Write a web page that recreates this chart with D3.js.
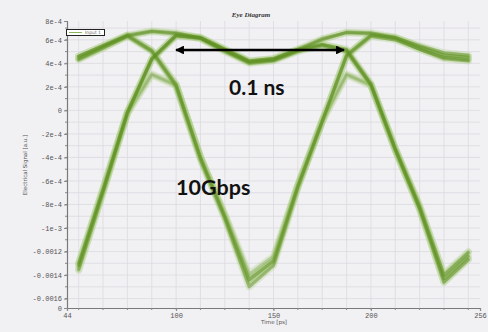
<!DOCTYPE html>
<html>
<head>
<meta charset="utf-8">
<script src="https://cdn.jsdelivr.net/npm/d3@7"></script>
<style>
  html, body { margin: 0; padding: 0; background: #f1f0f3; }
  svg { display: block; }
</style>
</head>
<body>
<svg id="chart" width="488" height="332"></svg>
<script>
// Sample instants of every trace [ps]
const times = [50, 62.5, 75, 87.5, 100, 112.5, 125, 137.5, 150, 162.5, 175, 187.5, 200, 212.5, 225, 237.5, 250];

// Electrical signal of each captured trace, in units of 1e-4 a.u.
const traceRiseHoldHold   = [-13.2, -6.8, -0.2, 4.4, 6.4, 6.15, 5.1, 4.1, 4.3, 5.1, 6.0, 6.65, 6.6, 6.2, 5.4, 4.7, 4.5];
const traceFallRise       = [4.6, 5.5, 6.4, 5.1, 2.2, -4.0, -9.0, -14.4, -12.8, -6.4, -0.9, 4.7, 6.4, 6.2, 5.5, 4.9, 4.7];
const traceHoldHoldFall   = [4.6, 5.5, 6.4, 6.75, 6.6, 6.15, 5.1, 4.1, 4.3, 5.1, 5.6, 5.1, 2.2, -3.3, -8.3, -14.3, -12.4];
const traceRiseHoldFall   = [-13.0, -6.7, -0.1, 4.4, 6.4, 6.1, 5.0, 4.0, 4.2, 5.0, 5.5, 5.0, 2.1, -3.4, -8.4, -14.6, -12.7];
const traceFallRiseDeep   = [4.4, 5.4, 6.3, 5.0, 2.0, -4.2, -9.2, -15.0, -13.2, -6.6, -1.0, 4.6, 6.3, 6.0, 5.2, 4.5, 4.3];
const traceHoldHoldFall2  = [4.3, 5.3, 6.3, 6.7, 6.5, 6.2, 5.2, 4.2, 4.4, 5.2, 5.6, 5.2, 2.3, -3.2, -8.1, -14.0, -12.1];
const traceRiseHoldHold2  = [-13.5, -7.0, -0.3, 4.3, 6.3, 6.2, 5.2, 4.2, 4.4, 5.2, 6.1, 6.6, 6.5, 6.1, 5.2, 4.4, 4.2];

// Weaker traces (short pulses that do not settle)
const tracePulsePulse     = [-13.6, -7.0, -0.3, 3.0, 2.1, -3.9, -8.8, -13.9, -12.4, -6.3, -0.8, 3.1, 2.2, -3.2, -8.1, -13.9, -12.0];
const tracePulseRise      = [-13.0, -6.6, -0.1, 3.1, 2.2, -4.0, -8.9, -14.2, -12.6, -6.4, -0.9, 4.7, 6.4, 6.2, 5.4, 4.7, 4.5];
const traceFallPulse      = [4.4, 5.3, 6.4, 5.1, 2.2, -4.0, -9.1, -14.6, -12.9, -6.5, -1.0, 3.0, 2.1, -3.4, -8.4, -14.6, -12.6];

const strongTraces = [traceRiseHoldHold, traceFallRise, traceHoldHoldFall, traceRiseHoldFall,
                      traceFallRiseDeep, traceHoldHoldFall2, traceRiseHoldHold2];
const weakTraces = [tracePulsePulse, tracePulseRise, traceFallPulse];
const signalUnit = 1e-4;

// Axis extents and tick labels
const timeExtent = [44, 256];
const xTickValues = [44, 100, 150, 200, 256];
const xTickLabels = ["44", "100", "150", "200", "256"];
const xGridStep = 12.5;

const signalExtent = [-16.8e-4, 7.6e-4];
const yTickValues = [-16.8e-4, -16e-4, -14e-4, -12e-4, -10e-4, -8e-4, -6e-4, -4e-4, -2e-4, 0, 2e-4, 4e-4, 6e-4, 7.6e-4];
const yTickLabels = ["0", "-0.0016", "-0.0014", "-0.0012", "-1e-3", "-8e-4", "-6e-4", "-4e-4", "-2e-4", "0", "2e-4", "4e-4", "6e-4", "8e-4"];
const yGridStep = 1e-4;

const svg = d3.select("#chart");
const plotLeft = 67, plotRight = 480, plotTop = 21, plotBottom = 308;

const x = d3.scaleLinear().domain(timeExtent).range([plotLeft, plotRight]);
const y = d3.scaleLinear().domain(signalExtent).range([plotBottom, plotTop]);

// grid
const grid = svg.append("g").attr("stroke", "#dcdbe0").attr("stroke-width", 0.8);
const xGrid = d3.range(50, timeExtent[1] + 0.01, xGridStep);
grid.append("g").selectAll("line").data(xGrid).join("line")
  .attr("x1", d => x(d)).attr("x2", d => x(d)).attr("y1", plotTop).attr("y2", plotBottom);
const yGrid = d3.range(-16, 7.01, 1).map(k => k * yGridStep);
grid.append("g").selectAll("line").data(yGrid).join("line")
  .attr("x1", plotLeft).attr("x2", plotRight).attr("y1", d => y(d)).attr("y2", d => y(d));

// traces
const line = d3.line()
  .x((d, i) => x(times[i]))
  .y(d => y(d * signalUnit));

const traceLayer = svg.append("g").attr("fill", "none")
  .attr("stroke-linejoin", "round").attr("stroke-linecap", "round");

function drawTraces(list, outerW, outerOp, innerW, innerOp) {
  traceLayer.append("g").selectAll("path").data(list).join("path")
    .attr("d", line).attr("stroke", "#a3c873").attr("stroke-width", outerW).attr("stroke-opacity", outerOp);
  traceLayer.append("g").selectAll("path").data(list).join("path")
    .attr("d", line).attr("stroke", "#5f9024").attr("stroke-width", innerW).attr("stroke-opacity", innerOp);
}
drawTraces(weakTraces, 7, 0.25, 3, 0.25);
drawTraces(strongTraces, 7, 0.28, 3.2, 0.5);

// axes
const yMinor = d3.range(-16, 7.01, 1).map(k => k * yGridStep);
const yAxis = svg.append("g").attr("transform", `translate(${plotLeft},0)`)
  .call(d3.axisLeft(y).tickValues(yTickValues).tickSize(3).tickPadding(2)
    .tickFormat((d, i) => yTickLabels[i]));
yAxis.append("g").selectAll("line").data(yMinor).join("line")
  .attr("x1", -2).attr("x2", 0).attr("y1", d => y(d)).attr("y2", d => y(d)).attr("stroke", "#888");

const xAxis = svg.append("g").attr("transform", `translate(0,${plotBottom})`)
  .call(d3.axisBottom(x).tickValues(xTickValues).tickSize(3).tickPadding(2)
    .tickFormat((d, i) => xTickLabels[i]));
xAxis.append("g").selectAll("line").data(xGrid).join("line")
  .attr("x1", d => x(d)).attr("x2", d => x(d)).attr("y1", 0).attr("y2", 2).attr("stroke", "#888");

[yAxis, xAxis].forEach(a => {
  a.select(".domain").attr("stroke", "#7a7a7a").attr("stroke-width", 1.2);
  a.selectAll(".tick line").attr("stroke", "#888");
  a.selectAll("text").attr("font-family", "Liberation Mono, monospace").attr("font-size", 7).attr("fill", "#555");
});

// titles
svg.append("text").attr("x", 251).attr("y", 17).attr("text-anchor", "middle")
  .attr("font-family", "Liberation Serif, serif").attr("font-style", "italic").attr("font-weight", "bold")
  .attr("font-size", 7).attr("fill", "#333").text("Eye Diagram");
svg.append("text").attr("x", 274).attr("y", 324).attr("text-anchor", "middle")
  .attr("font-family", "DejaVu Sans, sans-serif").attr("font-size", 5.5).attr("fill", "#555").text("Time [ps]");
svg.append("text").attr("transform", "translate(27,165) rotate(-90)").attr("text-anchor", "middle")
  .attr("font-family", "DejaVu Sans, sans-serif").attr("font-size", 5.5).attr("fill", "#555")
  .text("Electrical Signal [a.u.]");

// legend
const lg = svg.append("g");
lg.append("rect").attr("x", 66.5).attr("y", 29.5).attr("width", 38).attr("height", 6)
  .attr("fill", "#fff").attr("stroke", "#222").attr("stroke-width", 1);
lg.append("line").attr("x1", 69).attr("x2", 82).attr("y1", 32.5).attr("y2", 32.5)
  .attr("stroke", "#8ab55a").attr("stroke-width", 1);
lg.append("text").attr("x", 85).attr("y", 34.3).attr("font-family", "DejaVu Sans, sans-serif")
  .attr("font-size", 4.5).attr("fill", "#666").text("Input 1");

// bit-period annotation
const defs = svg.append("defs");
["start", "end"].forEach(id => {
  defs.append("marker").attr("id", "head-" + id).attr("viewBox", "0 0 10 10")
    .attr("refX", 9).attr("refY", 5).attr("markerWidth", 4.2).attr("markerHeight", 3.4)
    .attr("orient", id === "end" ? "auto" : "auto-start-reverse")
    .append("path").attr("d", "M0,0 L10,5 L0,10 Z").attr("fill", "#000");
});
svg.append("line").attr("x1", 176).attr("x2", 344).attr("y1", 50).attr("y2", 50)
  .attr("stroke", "#000").attr("stroke-width", 2.6)
  .attr("marker-start", "url(#head-start)").attr("marker-end", "url(#head-end)");

svg.append("text").attr("x", 229).attr("y", 95).attr("font-family", "Lato, sans-serif")
  .attr("font-weight", "bold").attr("font-size", 21).attr("fill", "#111").text("0.1 ns");
svg.append("text").attr("x", 176).attr("y", 195).attr("font-family", "Lato, sans-serif")
  .attr("font-weight", "bold").attr("font-size", 21.5).attr("fill", "#111").text("10Gbps");
</script>
</body>
</html>
